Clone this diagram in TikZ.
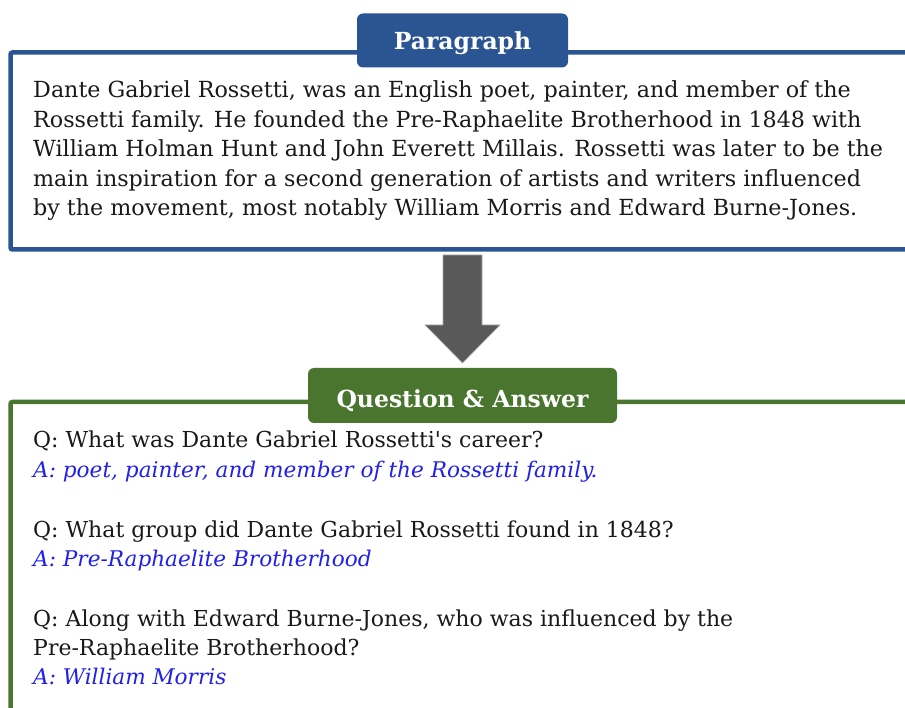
\documentclass[tikz,border=0pt]{standalone}
\usepackage{fontspec}
\setmainfont{DejaVu Serif}[Ligatures=TeXOff]
\definecolor{parablue}{RGB}{43,85,146}
\definecolor{qagreen}{RGB}{74,117,46}
\definecolor{arrowgray}{RGB}{89,89,89}
\definecolor{arrowedge}{RGB}{170,170,170}
\definecolor{ansblue}{RGB}{32,32,232}
\definecolor{bodyink}{RGB}{25,25,25}
\newcommand\bodysize{\fontsize{22.2}{26}\selectfont}
\newcommand\qasize{\fontsize{22}{26}\selectfont}
\newcommand\anssize{\fontsize{21.6}{26}\selectfont}
\newcommand\headsize{\fontsize{23.5}{28}\selectfont\bfseries}
\tikzset{
  frame/.style={line width=4.5pt, rounded corners=2pt},
  headbox/.style={rounded corners=6pt, inner sep=0pt},
  headtext/.style={anchor=base, inner sep=0pt, text=white, font=\headsize},
  bodyline/.style={anchor=base west, inner sep=0pt, text=bodyink, font=\bodysize},
  qline/.style={anchor=base west, inner sep=0pt, text=bodyink, font=\qasize},
  ansline/.style={anchor=base west, inner sep=0pt, text=ansblue, font=\anssize\itshape},
}
\begin{document}
\begin{tikzpicture}[x=1pt,y=-1pt]
\useasboundingbox (0,0) rectangle (905,708);
\begin{scope}
\clip (0,0) rectangle (905,708);
% paragraph frame
\draw[frame, parablue] (10.5,52.5) rectangle (940,249.5);
\node[headbox, fill=parablue, minimum width=211pt, minimum height=54pt] (parahead) at (462.5,40.5) {};
\node[headtext] (paratitle) at (462.5,50) {Paragraph};
\node[bodyline] (p1) at (33,98) {Dante Gabriel Rossetti, was an English poet, painter, and member of the};
\node[bodyline] (p2) at (33,128) {Rossetti family. He founded the Pre-Raphaelite Brotherhood in 1848 with};
\node[bodyline] (p3) at (33,157) {William Holman Hunt and John Everett Millais. Rossetti was later to be the};
\node[bodyline] (p4) at (33,187) {main inspiration for a second generation of artists and writers influenced};
\node[bodyline] (p5) at (33,216) {by the movement, most notably William Morris and Edward Burne-Jones.};
% block arrow between the two panels
\filldraw[fill=arrowgray, draw=arrowedge, line width=0.6pt]
  (443,255) -- (482,255) -- (482,325) -- (500,325) -- (462.5,363)
  -- (425,325) -- (443,325) -- cycle;
% question & answer frame
\draw[frame, qagreen] (10.5,402) rectangle (940,760);
\node[headbox, fill=qagreen, minimum width=309pt, minimum height=55pt] (qahead) at (462.5,395.5) {};
\node[headtext] (qatitle) at (462.5,408) {Question \& Answer};
\node[qline] (q1) at (33,447) {Q: What was Dante Gabriel Rossetti's career?};
\node[ansline] (a1) at (33,477) {A: poet, painter, and member of the Rossetti family.};
\node[qline] (q2) at (33,537) {Q: What group did Dante Gabriel Rossetti found in 1848?};
\node[ansline] (a2) at (33,566) {A: Pre-Raphaelite Brotherhood};
\node[qline] (q3) at (33,626) {Q: Along with Edward Burne-Jones, who was influenced by the};
\node[qline] (q3b) at (33,655) {Pre-Raphaelite Brotherhood?};
\node[ansline] (a3) at (33,684) {A: William Morris};
\end{scope}
\end{tikzpicture}
\end{document}
